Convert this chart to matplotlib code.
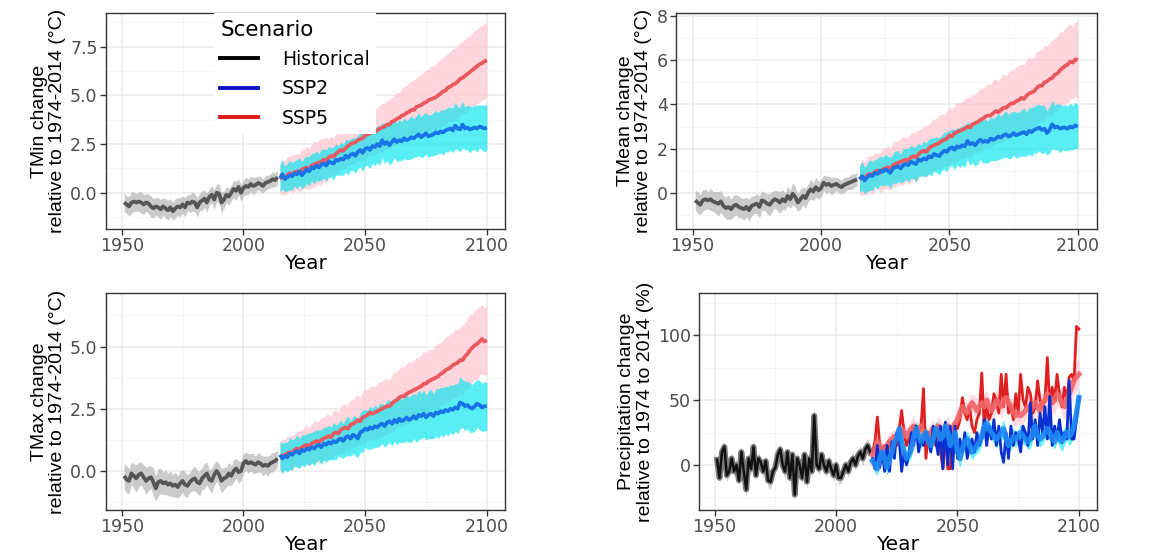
import numpy as np
import matplotlib
matplotlib.use("Agg")
import matplotlib.pyplot as plt
from matplotlib.lines import Line2D
from matplotlib.ticker import MultipleLocator

# --- years ---
HIST_YEARS = np.arange(1951, 2015)
FUT_YEARS = np.arange(2015, 2101)

# --- TMin change (deg C), ensemble mean and half-width of the model spread ---
TMIN_HIST = [
    -0.50, -0.60, -0.70, -0.50, -0.45, -0.50, -0.45, -0.50, -0.60, -0.50,
    -0.55, -0.70, -0.80, -0.70, -0.75, -0.85, -0.70, -0.80, -0.90, -0.75,
    -0.95, -0.80, -0.70, -0.75, -0.60, -0.75, -0.50, -0.55, -0.45, -0.50,
    -0.75, -0.50, -0.40, -0.30, -0.50, -0.20, -0.10, -0.35, 0.00, -0.05,
    -0.50, -0.35, -0.10, -0.20, 0.00, 0.20, 0.10, 0.30, 0.00, 0.25,
    0.35, 0.30, 0.45, 0.35, 0.40, 0.50, 0.45, 0.35, 0.50, 0.55,
    0.60, 0.70, 0.65, 0.80]
TMIN_HIST_SD = [
    0.50, 0.45, 0.50, 0.55, 0.50, 0.45, 0.50, 0.55, 0.50, 0.45,
    0.50, 0.55, 0.50, 0.45, 0.50, 0.50, 0.45, 0.50, 0.50, 0.45,
    0.45, 0.50, 0.45, 0.50, 0.45, 0.50, 0.40, 0.45, 0.50, 0.45,
    0.50, 0.45, 0.50, 0.45, 0.50, 0.40, 0.45, 0.50, 0.45, 0.50,
    0.55, 0.45, 0.40, 0.45, 0.40, 0.45, 0.50, 0.40, 0.45, 0.40,
    0.45, 0.40, 0.40, 0.45, 0.40, 0.35, 0.40, 0.35, 0.40, 0.35,
    0.35, 0.40, 0.35, 0.35]
TMIN_SSP2 = [
    0.75, 0.95, 0.70, 0.80, 0.90, 0.85, 1.00, 0.95, 1.10, 0.90,
    1.05, 1.20, 1.10, 1.30, 1.25, 1.40, 1.30, 1.45, 1.50, 1.40,
    1.60, 1.55, 1.50, 1.70, 1.65, 1.75, 1.70, 1.90, 1.80, 1.95,
    2.00, 1.90, 2.10, 2.20, 2.05, 2.25, 2.30, 2.20, 2.40, 2.35,
    2.50, 2.40, 2.70, 2.50, 2.60, 2.45, 2.60, 2.75, 2.60, 2.70,
    2.65, 2.80, 2.70, 2.75, 2.85, 2.80, 2.90, 3.00, 2.85, 2.95,
    3.05, 2.90, 2.95, 3.00, 3.10, 3.05, 3.15, 3.10, 3.20, 3.25,
    3.30, 3.20, 3.45, 3.30, 3.25, 3.50, 3.30, 3.35, 3.25, 3.30,
    3.35, 3.30, 3.40, 3.35, 3.30, 3.35]
TMIN_SSP2_SD = [
    0.70, 0.75, 0.65, 0.70, 0.75, 0.70, 0.65, 0.75, 0.70, 0.70,
    0.75, 0.70, 0.75, 0.70, 0.80, 0.75, 0.70, 0.80, 0.75, 0.80,
    0.80, 0.75, 0.85, 0.80, 0.75, 0.85, 0.80, 0.85, 0.90, 0.80,
    0.85, 0.90, 0.85, 0.90, 0.95, 0.85, 0.90, 0.95, 0.90, 0.95,
    0.95, 1.00, 0.90, 1.00, 0.95, 1.00, 1.05, 0.95, 1.00, 1.05,
    1.00, 1.05, 1.00, 1.05, 1.10, 1.00, 1.05, 1.10, 1.05, 1.10,
    1.05, 1.10, 1.05, 1.10, 1.15, 1.05, 1.10, 1.15, 1.10, 1.15,
    1.10, 1.15, 1.20, 1.10, 1.15, 1.20, 1.10, 1.15, 1.20, 1.10,
    1.15, 1.20, 1.10, 1.15, 1.20, 1.15]
TMIN_SSP5 = [
    0.70, 0.80, 0.75, 0.90, 1.00, 0.95, 1.05, 1.10, 1.00, 1.20,
    1.25, 1.30, 1.20, 1.40, 1.45, 1.50, 1.55, 1.60, 1.70, 1.65,
    1.80, 1.90, 1.85, 2.00, 2.10, 2.20, 2.15, 2.30, 2.40, 2.50,
    2.55, 2.60, 2.70, 2.75, 2.80, 2.95, 3.00, 3.05, 3.10, 3.15,
    3.20, 3.30, 3.35, 3.40, 3.50, 3.50, 3.65, 3.70, 3.80, 3.85,
    3.95, 4.00, 4.10, 4.15, 4.25, 4.25, 4.40, 4.45, 4.50, 4.60,
    4.65, 4.75, 4.80, 4.85, 4.90, 5.00, 5.10, 5.20, 5.25, 5.40,
    5.45, 5.55, 5.60, 5.70, 5.85, 5.90, 6.00, 6.10, 6.20, 6.30,
    6.40, 6.50, 6.60, 6.65, 6.75, 6.80]
TMIN_SSP5_SD = [
    0.80, 0.90, 0.85, 0.95, 0.90, 1.00, 0.95, 0.90, 1.00, 1.05,
    1.00, 1.10, 1.05, 1.10, 1.20, 1.10, 1.15, 1.20, 1.10, 1.20,
    0.95, 1.00, 0.95, 1.00, 1.05, 1.00, 0.95, 1.05, 1.00, 1.05,
    1.05, 1.10, 1.05, 1.10, 1.15, 1.10, 1.15, 1.10, 1.15, 1.20,
    1.15, 1.20, 1.25, 1.20, 1.25, 1.30, 1.25, 1.30, 1.35, 1.30,
    1.40, 1.45, 1.40, 1.50, 1.45, 1.55, 1.50, 1.60, 1.55, 1.60,
    1.65, 1.60, 1.70, 1.65, 1.70, 1.75, 1.70, 1.75, 1.80, 1.75,
    1.80, 1.85, 1.80, 1.85, 1.90, 1.85, 1.90, 1.95, 1.85, 1.90,
    1.95, 1.90, 1.95, 1.90, 1.95, 1.90]

# --- TMean change (deg C) ---
TMEAN_HIST = [
    -0.35, -0.45, -0.55, -0.35, -0.30, -0.35, -0.30, -0.40, -0.45, -0.50,
    -0.40, -0.60, -0.70, -0.65, -0.75, -0.60, -0.55, -0.65, -0.70, -0.75,
    -0.65, -0.80, -0.60, -0.55, -0.50, -0.65, -0.35, -0.40, -0.50, -0.55,
    -0.40, -0.30, -0.35, -0.45, -0.30, -0.40, -0.15, -0.30, -0.05, -0.20,
    -0.45, -0.30, -0.15, -0.25, 0.00, 0.15, 0.05, 0.25, 0.10, 0.20,
    0.45, 0.35, 0.40, 0.30, 0.35, 0.40, 0.30, 0.25, 0.35, 0.40,
    0.45, 0.50, 0.55, 0.60]
TMEAN_HIST_SD = [
    0.45, 0.50, 0.45, 0.50, 0.45, 0.40, 0.50, 0.45, 0.50, 0.55,
    0.50, 0.45, 0.50, 0.55, 0.45, 0.50, 0.45, 0.50, 0.45, 0.50,
    0.45, 0.50, 0.45, 0.40, 0.45, 0.50, 0.45, 0.40, 0.45, 0.50,
    0.45, 0.40, 0.45, 0.50, 0.45, 0.40, 0.45, 0.40, 0.50, 0.45,
    0.40, 0.45, 0.40, 0.45, 0.40, 0.45, 0.40, 0.45, 0.40, 0.40,
    0.35, 0.40, 0.35, 0.40, 0.35, 0.30, 0.35, 0.30, 0.35, 0.30,
    0.30, 0.35, 0.30, 0.30]
TMEAN_SSP2 = [
    0.60, 0.75, 0.55, 0.70, 0.80, 0.75, 0.90, 0.85, 1.00, 0.95,
    1.05, 1.00, 0.90, 1.10, 1.15, 1.20, 1.10, 1.25, 1.30, 1.25,
    1.40, 1.35, 1.30, 1.50, 1.45, 1.55, 1.50, 1.65, 1.60, 1.75,
    1.70, 1.65, 1.80, 1.90, 1.85, 2.00, 2.05, 1.95, 2.10, 2.05,
    2.15, 2.10, 2.35, 2.20, 2.25, 2.15, 2.30, 2.40, 2.30, 2.35,
    2.30, 2.45, 2.40, 2.45, 2.55, 2.50, 2.60, 2.65, 2.55, 2.60,
    2.70, 2.60, 2.65, 2.70, 2.75, 2.65, 2.80, 2.75, 2.85, 2.90,
    2.95, 2.85, 2.90, 2.70, 2.85, 3.10, 2.95, 3.00, 2.90, 2.95,
    2.95, 2.90, 3.00, 2.95, 3.05, 3.00]
TMEAN_SSP2_SD = [
    0.60, 0.65, 0.60, 0.65, 0.70, 0.65, 0.60, 0.70, 0.65, 0.65,
    0.70, 0.65, 0.70, 0.65, 0.75, 0.70, 0.65, 0.75, 0.70, 0.75,
    0.75, 0.70, 0.80, 0.75, 0.70, 0.80, 0.75, 0.80, 0.85, 0.75,
    0.80, 0.85, 0.80, 0.85, 0.90, 0.80, 0.85, 0.90, 0.85, 0.90,
    0.90, 0.95, 0.85, 0.95, 0.90, 0.95, 1.00, 0.90, 0.95, 1.00,
    0.95, 1.00, 0.95, 1.00, 1.05, 0.95, 1.00, 1.05, 1.00, 1.05,
    1.00, 1.05, 1.00, 1.05, 1.10, 1.00, 1.05, 1.10, 1.05, 1.10,
    1.05, 1.10, 1.05, 1.00, 1.05, 1.10, 1.00, 1.05, 1.10, 1.00,
    1.05, 1.00, 1.05, 1.00, 1.05, 1.00]
TMEAN_SSP5 = [
    0.60, 0.70, 0.65, 0.80, 0.85, 0.80, 0.95, 1.00, 0.90, 1.05,
    1.10, 1.15, 1.05, 1.25, 1.30, 1.35, 1.40, 1.45, 1.50, 1.45,
    1.60, 1.65, 1.60, 1.75, 1.85, 1.90, 1.85, 2.00, 2.10, 2.15,
    2.20, 2.25, 2.35, 2.40, 2.45, 2.60, 2.55, 2.70, 2.75, 2.80,
    2.85, 2.90, 3.00, 2.95, 3.10, 3.15, 3.20, 3.30, 3.35, 3.45,
    3.50, 3.50, 3.60, 3.70, 3.65, 3.75, 3.85, 3.85, 3.95, 4.05,
    4.05, 4.15, 4.20, 4.30, 4.25, 4.40, 4.50, 4.55, 4.60, 4.75,
    4.85, 4.85, 5.00, 5.05, 5.15, 5.20, 5.35, 5.40, 5.55, 5.65,
    5.75, 5.80, 5.95, 5.90, 6.05, 6.00]
TMEAN_SSP5_SD = [
    0.70, 0.80, 0.75, 0.85, 0.80, 0.90, 0.85, 0.80, 0.90, 0.95,
    0.90, 1.00, 0.95, 1.00, 1.05, 1.00, 1.05, 1.10, 1.00, 1.10,
    1.10, 1.05, 1.15, 1.10, 1.05, 1.15, 1.20, 1.10, 1.15, 1.20,
    1.15, 1.25, 1.20, 1.15, 1.25, 1.30, 1.20, 1.25, 1.35, 1.25,
    1.30, 1.35, 1.30, 1.40, 1.35, 1.30, 1.40, 1.45, 1.35, 1.40,
    1.45, 1.40, 1.50, 1.45, 1.40, 1.50, 1.55, 1.45, 1.50, 1.55,
    1.50, 1.55, 1.60, 1.50, 1.55, 1.60, 1.65, 1.55, 1.60, 1.65,
    1.60, 1.65, 1.70, 1.60, 1.65, 1.70, 1.65, 1.70, 1.75, 1.65,
    1.70, 1.75, 1.70, 1.65, 1.70, 1.70]

# --- TMax change (deg C) ---
TMAX_HIST = [
    -0.20, -0.35, -0.40, -0.10, -0.20, -0.30, -0.15, -0.10, -0.25, -0.40,
    -0.30, -0.25, -0.45, -0.70, -0.45, -0.40, -0.50, -0.45, -0.55, -0.50,
    -0.60, -0.55, -0.65, -0.50, -0.40, -0.55, -0.60, -0.45, -0.35, -0.30,
    -0.45, -0.50, -0.30, -0.20, -0.10, -0.35, -0.40, -0.15, 0.00, -0.15,
    -0.40, -0.30, -0.25, -0.10, -0.20, 0.00, 0.10, -0.05, 0.00, 0.30,
    0.40, 0.30, 0.35, 0.30, 0.25, 0.35, 0.30, 0.20, 0.25, 0.20,
    0.30, 0.35, 0.40, 0.50]
TMAX_HIST_SD = [
    0.50, 0.55, 0.50, 0.45, 0.50, 0.55, 0.50, 0.45, 0.50, 0.55,
    0.50, 0.45, 0.55, 0.50, 0.55, 0.50, 0.45, 0.50, 0.45, 0.50,
    0.45, 0.50, 0.45, 0.50, 0.45, 0.50, 0.45, 0.40, 0.45, 0.50,
    0.45, 0.50, 0.45, 0.50, 0.45, 0.40, 0.50, 0.45, 0.40, 0.45,
    0.50, 0.45, 0.40, 0.45, 0.40, 0.45, 0.40, 0.45, 0.40, 0.40,
    0.35, 0.40, 0.35, 0.40, 0.35, 0.40, 0.35, 0.40, 0.35, 0.40,
    0.35, 0.40, 0.35, 0.35]
TMAX_SSP2 = [
    0.65, 0.50, 0.60, 0.55, 0.70, 0.65, 0.75, 0.80, 0.70, 0.85,
    0.80, 0.90, 0.85, 0.95, 0.90, 1.00, 1.05, 0.95, 1.10, 1.05,
    1.15, 1.10, 1.20, 1.15, 1.25, 1.30, 1.20, 1.35, 1.40, 1.30,
    1.45, 1.40, 1.30, 1.55, 1.60, 1.70, 1.65, 1.75, 1.70, 1.80,
    1.75, 1.85, 1.90, 1.80, 1.95, 2.00, 1.90, 2.05, 1.95, 2.10,
    2.00, 2.05, 2.15, 2.05, 2.10, 2.20, 2.10, 2.25, 2.20, 2.30,
    2.15, 2.25, 2.30, 2.20, 2.35, 2.30, 2.40, 2.35, 2.45, 2.40,
    2.50, 2.45, 2.55, 2.50, 2.75, 2.70, 2.60, 2.65, 2.55, 2.50,
    2.60, 2.70, 2.65, 2.55, 2.60, 2.60]
TMAX_SSP2_SD = [
    0.55, 0.60, 0.55, 0.60, 0.65, 0.60, 0.55, 0.65, 0.60, 0.60,
    0.65, 0.60, 0.65, 0.60, 0.70, 0.65, 0.60, 0.70, 0.65, 0.70,
    0.70, 0.65, 0.75, 0.70, 0.65, 0.75, 0.70, 0.75, 0.80, 0.70,
    0.75, 0.80, 0.75, 0.80, 0.85, 0.75, 0.80, 0.85, 0.80, 0.85,
    0.80, 0.85, 0.80, 0.85, 0.90, 0.85, 0.90, 0.85, 0.90, 0.95,
    0.85, 0.90, 0.95, 0.90, 0.95, 0.90, 0.95, 1.00, 0.90, 0.95,
    0.90, 0.95, 1.00, 0.90, 0.95, 1.00, 0.95, 1.00, 0.95, 1.00,
    0.95, 1.00, 0.95, 1.00, 1.05, 0.95, 1.00, 0.95, 1.00, 0.95,
    1.00, 0.95, 1.00, 0.95, 1.00, 0.95]
TMAX_SSP5 = [
    0.55, 0.60, 0.65, 0.70, 0.75, 0.70, 0.85, 0.90, 0.85, 0.95,
    1.00, 1.05, 0.95, 1.10, 1.15, 1.20, 1.15, 1.25, 1.30, 1.35,
    1.40, 1.35, 1.50, 1.55, 1.50, 1.65, 1.70, 1.75, 1.70, 1.85,
    1.90, 1.95, 2.05, 2.00, 2.15, 2.20, 2.25, 2.35, 2.30, 2.35,
    2.40, 2.45, 2.50, 2.55, 2.60, 2.60, 2.70, 2.80, 2.85, 2.95,
    3.00, 3.00, 3.10, 3.15, 3.20, 3.25, 3.30, 3.35, 3.40, 3.50,
    3.50, 3.60, 3.65, 3.70, 3.75, 3.80, 3.90, 3.95, 4.05, 4.10,
    4.15, 4.25, 4.30, 4.35, 4.45, 4.45, 4.60, 4.70, 4.85, 4.95,
    5.05, 5.10, 5.20, 5.30, 5.20, 5.25]
TMAX_SSP5_SD = [
    0.60, 0.65, 0.60, 0.70, 0.65, 0.70, 0.65, 0.70, 0.75, 0.70,
    0.75, 0.80, 0.75, 0.80, 0.85, 0.80, 0.85, 0.90, 0.85, 0.90,
    0.90, 0.85, 0.95, 0.90, 0.85, 0.95, 1.00, 0.90, 0.95, 1.00,
    0.95, 1.05, 1.00, 0.95, 1.05, 1.10, 1.00, 1.05, 1.10, 1.05,
    1.10, 1.15, 1.10, 1.15, 1.10, 1.05, 1.15, 1.20, 1.10, 1.15,
    1.20, 1.15, 1.20, 1.25, 1.15, 1.20, 1.25, 1.20, 1.25, 1.30,
    1.25, 1.30, 1.25, 1.20, 1.30, 1.35, 1.25, 1.30, 1.35, 1.30,
    1.35, 1.30, 1.40, 1.35, 1.30, 1.40, 1.35, 1.40, 1.45, 1.35,
    1.40, 1.45, 1.35, 1.40, 1.35, 1.35]

# --- Precipitation change (%) ---
PR_HIST = [
    4, -10, 10, 14, -8, -5, 5, -5, 0, -12,
    10, -5, -19, 5, -3, 14, -8, 5, 2, -5,
    3, -12, -13, -5, -2, 8, 12, 0, -5, 10,
    -10, 8, -23, 5, 0, -10, 8, -13, 5, -5,
    38, 0, -3, 8, 0, -5, 3, -3, -8, 0,
    -10, -10, -5, 0, -5, 2, 5, 0, 7, 10,
    5, 12, 15, 10]
PR_HIST_SD = [
    4, 5, 6, 4, 5, 3, 5, 4, 6, 5,
    4, 5, 6, 4, 5, 6, 4, 5, 4, 5,
    4, 5, 6, 5, 4, 5, 4, 5, 6, 4,
    5, 4, 6, 5, 4, 5, 4, 6, 5, 4,
    8, 4, 5, 4, 5, 4, 5, 4, 5, 4,
    5, 4, 5, 4, 5, 4, 5, 4, 5, 5,
    6, 5, 6, 5]
PR_SSP2 = [
    5, -3, 15, -2, 10, -5, 15, -5, 18, 5,
    25, 20, -5, 10, 0, 8, 25, 15, 30, 10,
    20, 15, 25, 20, 10, 30, 20, 8, 30, -3,
    33, 0, 30, -3, 30, 5, 20, 10, 25, 5,
    15, 20, 10, 25, 15, 20, 35, 15, 30, 20,
    35, 15, 30, 10, 2, 25, 5, 30, 15, 25,
    20, 10, 30, 25, 15, 48, 20, 35, 15, 40,
    25, 45, 20, 53, 15, 30, 20, 35, 20, 25,
    20, 65, 20, 20, 35, 52]
PR_SSP2_MEAN = [
    3, 0, -3, 5, 10, 5, -2, 5, 10, 18,
    20, 28, 18, 10, 5, 8, 12, 22, 28, 22,
    18, 22, 25, 18, 15, 20, 28, 25, 20, 22,
    30, 25, 15, 20, 25, 10, 5, 12, 18, 20,
    15, 10, 12, 15, 18, 22, 30, 32, 28, 25,
    22, 20, 22, 25, 28, 20, 15, 18, 22, 20,
    22, 25, 22, 20, 18, 20, 25, 30, 22, 20,
    22, 25, 28, 25, 20, 18, 25, 20, 18, 22,
    25, 22, 25, 30, 40, 52]
PR_SSP2_SD = [
    4, 6, 5, 4, 6, 5, 6, 4, 5, 6,
    5, 6, 5, 7, 6, 5, 6, 5, 6, 7,
    5, 6, 5, 7, 6, 5, 6, 7, 5, 6,
    6, 5, 7, 6, 5, 6, 7, 6, 5, 6,
    7, 6, 5, 6, 7, 6, 5, 7, 6, 5,
    6, 7, 5, 6, 7, 6, 5, 6, 7, 6,
    5, 7, 6, 5, 6, 7, 6, 5, 7, 6,
    6, 5, 7, 6, 5, 6, 7, 6, 8, 7,
    6, 7, 8, 7, 9, 8]
PR_SSP5 = [
    10, 18, 37, 15, 5, 15, 8, 18, 12, 20,
    15, 28, 42, 25, 15, 20, 25, 30, 20, 25,
    30, 59, 5, 25, 20, 28, 15, 30, 10, -3,
    25, -3, -3, 25, 30, 28, 35, 52, 40, 35,
    45, 30, 25, 35, 40, 71, 30, 45, 35, 40,
    55, 50, 40, 70, 45, 70, 40, 45, 35, 55,
    40, 70, 50, 45, 60, 55, 40, 45, 65, 50,
    45, 50, 83, 45, 60, 50, 70, 55, 45, 60,
    50, 68, 70, 65, 107, 105]
PR_SSP5_MEAN = [
    8, 12, 18, 15, 10, 12, 15, 18, 20, 22,
    20, 25, 28, 25, 22, 25, 28, 30, 25, 28,
    30, 25, 20, 22, 25, 28, 25, 30, 28, 25,
    28, 30, 25, 28, 32, 35, 40, 45, 42, 40,
    45, 48, 45, 42, 45, 48, 45, 50, 45, 42,
    45, 50, 48, 45, 50, 52, 48, 45, 40, 38,
    40, 38, 40, 42, 45, 42, 45, 48, 45, 42,
    48, 50, 55, 52, 48, 50, 55, 52, 48, 45,
    50, 55, 60, 65, 68, 70]
PR_SSP5_SD = [
    5, 6, 7, 5, 6, 5, 6, 7, 6, 5,
    6, 7, 6, 8, 7, 6, 7, 8, 6, 7,
    7, 8, 6, 7, 8, 7, 6, 8, 7, 8,
    7, 8, 7, 6, 8, 7, 9, 8, 7, 8,
    8, 7, 8, 9, 7, 8, 9, 8, 7, 8,
    9, 8, 7, 9, 8, 9, 8, 7, 9, 8,
    8, 9, 8, 7, 9, 8, 9, 8, 10, 9,
    8, 9, 12, 8, 9, 10, 9, 8, 9, 10,
    9, 10, 9, 10, 12, 10]

SCENARIOS = ["Historical", "SSP2", "SSP5"]
# mean line colours as they show over their own ribbon
LINE_COLORS = {"Historical": "#555555", "SSP2": "#1874e6", "SSP5": "#e8585d"}
LEGEND_COLORS = {"Historical": "black", "SSP2": "#1010c8", "SSP5": "#e01818"}
BAND_COLORS = {"Historical": "#b0b0b0", "SSP2": "#00e5ee", "SSP5": "#ffc0cb"}
# precipitation lines: (smoothed mean colour, raw series colour)
PR_COLORS = {"Historical": ("#7a7a7a", "#111111"),
             "SSP2": ("#1e88f5", "#0a2fd0"),
             "SSP5": ("#f06468", "#e02020")}

GRID_MAJOR = "#ebebeb"
GRID_MINOR = "#f4f4f4"
BORDER = "#333333"
TICK_TXT = "#4d4d4d"


def style_axes(ax, ylim, yticks, yfmt, yminor, ylabel):
    ax.set_xlim(1943.55, 2107.45)
    ax.set_ylim(*ylim)
    ax.set_xticks([1950, 2000, 2050, 2100])
    ax.xaxis.set_minor_locator(MultipleLocator(25))
    ax.set_yticks(yticks)
    ax.set_yticklabels([yfmt.format(v) for v in yticks])
    ax.yaxis.set_minor_locator(MultipleLocator(yminor))
    ax.grid(which="major", color=GRID_MAJOR, lw=1.1)
    ax.grid(which="minor", color=GRID_MINOR, lw=0.6)
    ax.set_axisbelow(True)
    ax.tick_params(which="major", length=4, width=1, color=BORDER,
                   labelsize=12.5, labelcolor=TICK_TXT, pad=2)
    ax.tick_params(which="minor", length=0)
    for s in ax.spines.values():
        s.set_color(BORDER)
        s.set_linewidth(1)
    ax.set_xlabel("Year", fontsize=14.5, labelpad=-1)
    ax.set_ylabel(ylabel, fontsize=14, family="Liberation Sans",
                  labelpad=3, linespacing=1.1)


def temp_panel(ax, hist, hist_sd, ssp2, ssp2_sd, ssp5, ssp5_sd):
    series = [("Historical", HIST_YEARS, hist, hist_sd),
              ("SSP5", FUT_YEARS, ssp5, ssp5_sd),
              ("SSP2", FUT_YEARS, ssp2, ssp2_sd)]
    for name, x, m, sd in series:
        m = np.asarray(m)
        sd = np.asarray(sd)
        ax.fill_between(x, m - sd, m + sd, color=BAND_COLORS[name],
                        alpha=0.65, lw=0)
        ax.plot(x, m, color=LINE_COLORS[name], lw=2.7, solid_capstyle="butt")


fig = plt.figure(figsize=(11.66, 5.55), dpi=100)
W, H = 1166.0, 555.0


def add_ax(left, top, right, bottom):
    return fig.add_axes([left / W, 1 - bottom / H, (right - left) / W,
                         (bottom - top) / H])


ax1 = add_ax(106, 13, 505, 229)
ax2 = add_ax(676, 13, 1097, 229)
ax3 = add_ax(106, 293, 505, 510)
ax4 = add_ax(699, 293, 1097, 510)

temp_panel(ax1, TMIN_HIST, TMIN_HIST_SD, TMIN_SSP2, TMIN_SSP2_SD,
           TMIN_SSP5, TMIN_SSP5_SD)
style_axes(ax1, (-1.86, 9.23), [0, 2.5, 5, 7.5], "{:.1f}", 1.25,
           "TMin change\nrelative to 1974-2014 (°C)")

temp_panel(ax2, TMEAN_HIST, TMEAN_HIST_SD, TMEAN_SSP2, TMEAN_SSP2_SD,
           TMEAN_SSP5, TMEAN_SSP5_SD)
style_axes(ax2, (-1.65, 8.15), [0, 2, 4, 6, 8], "{:.0f}", 1,
           "TMean change\nrelative to 1974-2014 (°C)")

temp_panel(ax3, TMAX_HIST, TMAX_HIST_SD, TMAX_SSP2, TMAX_SSP2_SD,
           TMAX_SSP5, TMAX_SSP5_SD)
style_axes(ax3, (-1.57, 7.15), [0, 2.5, 5], "{:.1f}", 1.25,
           "TMax change\nrelative to 1974-2014 (°C)")

# precipitation: ensemble band, smoothed mean (wide, light) and raw line
h = np.asarray(PR_HIST)
hs = np.asarray(PR_HIST_SD)
ax4.fill_between(HIST_YEARS, h - hs, h + hs, color=BAND_COLORS["Historical"],
                 alpha=0.6, lw=0)
ax4.plot(HIST_YEARS, h, color=PR_COLORS["Historical"][0], lw=4.2)
ax4.plot(HIST_YEARS, h, color=PR_COLORS["Historical"][1], lw=1.8)
for name, raw, mean, sd in [("SSP5", PR_SSP5, PR_SSP5_MEAN, PR_SSP5_SD),
                            ("SSP2", PR_SSP2, PR_SSP2_MEAN, PR_SSP2_SD)]:
    mean = np.asarray(mean)
    sd = np.asarray(sd)
    ax4.fill_between(FUT_YEARS, mean - sd, mean + sd, color=BAND_COLORS[name],
                     alpha=0.6, lw=0)
    ax4.plot(FUT_YEARS, raw, color=PR_COLORS[name][1], lw=2.0)
    ax4.plot(FUT_YEARS, mean, color=PR_COLORS[name][0], lw=3.8, alpha=0.9)
style_axes(ax4, (-34.8, 132.8), [0, 50, 100], "{:.0f}", 25,
           "Precipitation change\nrelative to 1974 to 2014 (%)")

# legend in the first panel
handles = [Line2D([0], [0], color=LEGEND_COLORS[s], lw=2.8) for s in SCENARIOS]
leg = ax1.legend(handles, SCENARIOS, title="Scenario", loc="upper left",
                 bbox_to_anchor=(0.27, 1.0), borderaxespad=0, borderpad=0.35,
                 frameon=True, facecolor="white", edgecolor="none",
                 framealpha=1, fontsize=13.5, title_fontsize=15.5,
                 handlelength=2.0, handletextpad=1.3, labelspacing=0.55,
                 alignment="left", fancybox=False)
leg.set_zorder(5)

fig.savefig("out.png", dpi=100)
